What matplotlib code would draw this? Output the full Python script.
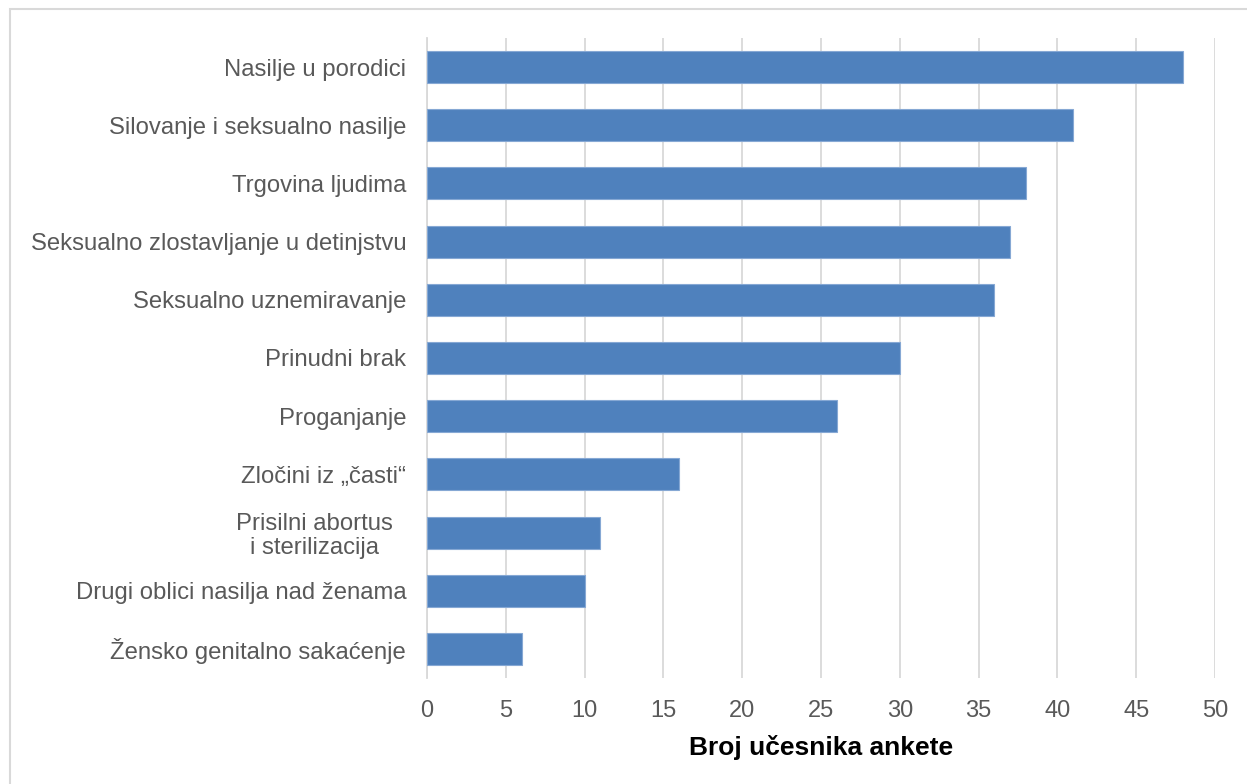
import matplotlib.pyplot as plt
import matplotlib.transforms as mtransforms
from matplotlib.patches import Rectangle

plt.rcParams['font.family'] = ['Liberation Sans', 'DejaVu Sans']

# data, top to bottom as in the chart
categories = [
    "Nasilje u porodici",
    "Silovanje i seksualno nasilje",
    "Trgovina ljudima",
    "Seksualno zlostavljanje u detinjstvu",
    "Seksualno uznemiravanje",
    "Prinudni brak",
    "Proganjanje",
    "Zločini iz „časti“",
    "Prisilni abortus\ni sterilizacija",
    "Drugi oblici nasilja nad ženama",
    "Žensko genitalno sakaćenje",
]
values = [48, 41, 38, 37, 36, 30, 26, 16, 11, 10, 6]
xticks = [0, 5, 10, 15, 20, 25, 30, 35, 40, 45, 50]
xlabel = "Broj učesnika ankete"

W, H = 1247, 784
fig = plt.figure(figsize=(W / 100, H / 100), dpi=100)

# light frame around the chart area
fig.patches.append(Rectangle((10 / W, -0.1), 1.2, 1.1 - 9 / H, transform=fig.transFigure,
                             fill=False, edgecolor='#d9d9d9', linewidth=1.5, zorder=0))

ax = fig.add_axes([427 / W, 1 - 678 / H, (1215 - 427) / W, (678 - 38) / H])

ypos = list(range(len(categories)))
ax.barh(ypos, values, height=0.55, color='#4f81bd', edgecolor='#86a8d4',
        linewidth=0.8, zorder=3)

ax.set_ylim(len(categories) - 0.5, -0.5)
ax.set_xlim(0, 50)
ax.set_xticks(xticks)
ax.set_yticks(ypos)
ax.set_yticklabels(categories, fontsize=17.2, color='#595959', multialignment='center',
                   linespacing=1.1)

ax.tick_params(axis='x', length=0, pad=16, labelsize=17, labelcolor='#595959')
ax.tick_params(axis='y', length=0, pad=15)

# the wrapped label sits a bit further left in the original
lbl = ax.get_yticklabels()[8]
lbl.set_transform(lbl.get_transform() +
                  mtransforms.ScaledTranslation(-13 / 100, 0, fig.dpi_scale_trans))

ax.grid(axis='x', color='#d9d9d9', linewidth=1.3, zorder=0)
for s in ['top', 'right', 'bottom']:
    ax.spines[s].set_visible(False)
ax.spines['left'].set_color('#d9d9d9')
ax.spines['left'].set_linewidth(1.3)

ax.set_xlabel(xlabel, fontsize=19, fontweight='bold', color='black', labelpad=9)

fig.savefig('out.png', dpi=100)
